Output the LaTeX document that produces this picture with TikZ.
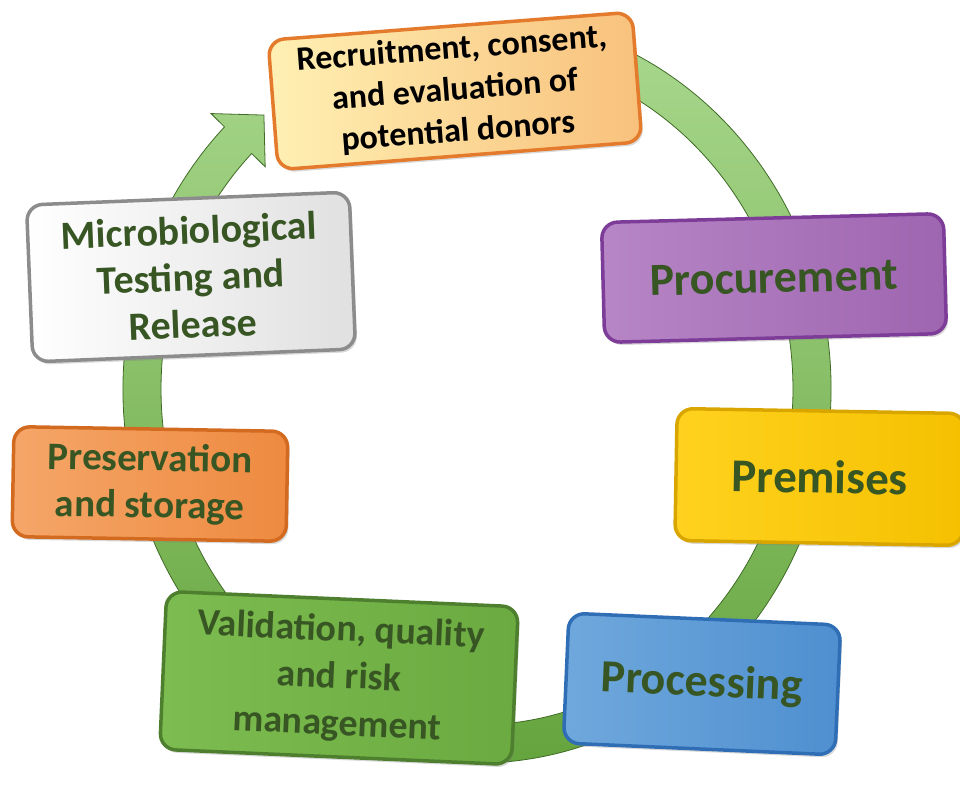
\documentclass[tikz,border=0pt]{standalone}
\usepackage{fontspec}
\newfontfamily\cfont{Carlito}
\usetikzlibrary{calc,shadows}
\definecolor{txtgreen}{HTML}{375623}
\definecolor{recL}{HTML}{FFF0B3}\definecolor{recR}{HTML}{F8C17C}\definecolor{recB}{HTML}{E47B2C}
\definecolor{proL}{HTML}{B786C6}\definecolor{proR}{HTML}{9E65B0}\definecolor{proB}{HTML}{7D3C98}
\definecolor{preL}{HTML}{FFD21F}\definecolor{preR}{HTML}{F5C000}\definecolor{preB}{HTML}{D9A600}
\definecolor{prcL}{HTML}{6FA8DC}\definecolor{prcR}{HTML}{4F8FD0}\definecolor{prcB}{HTML}{2F6EB5}
\definecolor{valL}{HTML}{7DBC50}\definecolor{valR}{HTML}{6AAA40}\definecolor{valB}{HTML}{4D7F2E}
\definecolor{psvL}{HTML}{F5A669}\definecolor{psvR}{HTML}{EE8A40}\definecolor{psvB}{HTML}{D26A20}
\definecolor{micL}{HTML}{FFFFFF}\definecolor{micR}{HTML}{E0E0E0}\definecolor{micB}{HTML}{8C8C8C}
\definecolor{ringT}{HTML}{A9D88E}\definecolor{ringB}{HTML}{62A23A}\definecolor{ringE}{HTML}{3F6B26}
\begin{document}
\begin{tikzpicture}[x=1pt,y=-1pt,
  box/.style={rounded corners=16pt, line width=3.5pt, inner sep=0pt, align=center,
    text=txtgreen, drop shadow={opacity=0.3,shadow xshift=2pt,shadow yshift=-3pt}},
  ringband/.style={draw=ringE, line width=0.8pt, top color=ringT, bottom color=ringB}]
\useasboundingbox (0,0) rectangle (960,784);
\clip (0,0) rectangle (960,784);
\coordinate (c) at (477,389);
\path[ringband]
  ($(c)+(-80:354 and 374)$) arc[start angle=-80,end angle=224.5,x radius=354,y radius=374]
  -- ($(c)+(224.5:373 and 393)$) -- ($(c)+(230.5:335 and 355)$)
  -- ($(c)+(224.5:297 and 317)$) -- ($(c)+(224.5:316 and 336)$)
  arc[start angle=224.5,end angle=-80,x radius=316,y radius=336] -- cycle;

\node[box, draw=recB, left color=recL, right color=recR, text=black,
  font=\cfont\bfseries\fontsize{34}{41.5}\selectfont,
  minimum width=365pt, minimum height=130pt, rotate=4.4] (recruit) at (455,91)
  {Recruitment, consent,\\and evaluation of\\potential donors};
\node[box, draw=proB, left color=proL, right color=proR,
  font=\cfont\bfseries\fontsize{46}{50}\selectfont,
  minimum width=342pt, minimum height=120pt, rotate=1.5] (procure) at (774,278)
  {Procurement};
\node[box, draw=preB, left color=preL, right color=preR,
  font=\cfont\bfseries\fontsize{47}{50}\selectfont,
  minimum width=288pt, minimum height=132pt, rotate=-1] (premises) at (820,477)
  {Premises};
\node[box, draw=prcB, left color=prcL, right color=prcR,
  font=\cfont\bfseries\fontsize{46}{50}\selectfont,
  minimum width=272pt, minimum height=130pt, rotate=-2.5] (processing) at (702,684)
  {Processing};
\node[box, draw=valB, left color=valL, right color=valR,
  font=\cfont\bfseries\fontsize{38}{47}\selectfont,
  minimum width=352pt, minimum height=158pt, rotate=-2.5] (validation) at (339,678)
  {Validation, quality\\and risk\\management};
\node[box, draw=psvB, left color=psvL, right color=psvR,
  font=\cfont\bfseries\fontsize{39}{47}\selectfont,
  minimum width=274pt, minimum height=110pt, rotate=-1] (preservation) at (150,484)
  {Preservation\\and storage};
\node[box, draw=micB, left color=micL, right color=micR,
  font=\cfont\bfseries\fontsize{40}{47}\selectfont,
  minimum width=323pt, minimum height=157pt, rotate=2.3] (micro) at (191,277)
  {Microbiological\\Testing and\\Release};
\end{tikzpicture}
\end{document}
